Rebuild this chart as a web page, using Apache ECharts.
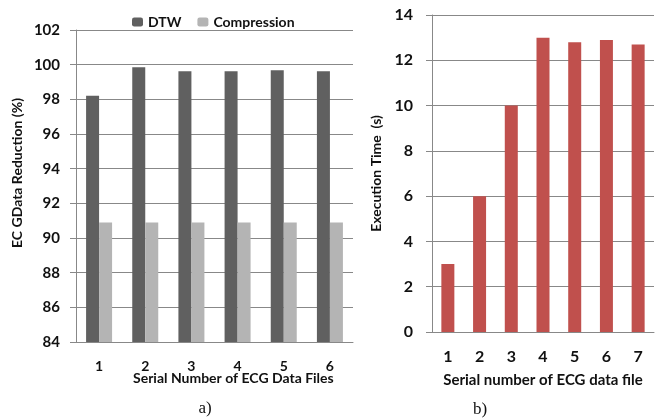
<!DOCTYPE html>
<html>
	<head>
		<meta charset="utf-8" />
		<title>ECG data reduction and execution time</title>
		<script src="https://cdn.jsdelivr.net/npm/echarts@6/dist/echarts.min.js"></script>
		<style>
			html, body { margin: 0; padding: 0; background: #fff; }
			#main { width: 659px; height: 420px; }
		</style>
	</head>
	<body>
		<div id="main"></div>
		<script>
			// a) data reduction per file
			var filesA = ['1', '2', '3', '4', '5', '6'];
			var dtwValues = [98.2, 99.85, 99.62, 99.62, 99.68, 99.62];
			var compressionValues = [90.9, 90.9, 90.9, 90.9, 90.9, 90.9];
			// b) execution time per file
			var filesB = ['1', '2', '3', '4', '5', '6', '7'];
			var execTimes = [3, 6, 10, 13, 12.8, 12.9, 12.7];

			var font = 'Lato';
			var lineColor = '#888';
			var textColor = '#111';

			var chart = echarts.init(document.getElementById('main'));

			var option = {
				animation: false,
				textStyle: { fontFamily: font },
				legend: {
					left: 127,
					top: 10,
					itemWidth: 11,
					itemHeight: 9,
					itemGap: 16,
					textStyle: { fontFamily: font, fontWeight: 'bold', fontSize: 14, color: textColor },
					data: ['DTW', 'Compression']
				},
				grid: [
					{ left: 76, top: 30, width: 277, height: 312 },
					{ left: 432, top: 15, width: 222, height: 317 }
				],
				xAxis: [{
					gridIndex: 0,
					type: 'category',
					data: filesA,
					axisLine: { lineStyle: { color: lineColor } },
					axisTick: { length: 5, lineStyle: { color: lineColor } },
					axisLabel: { margin: 17, fontSize: 14, fontWeight: 'bold', color: textColor }
				}, {
					gridIndex: 1,
					type: 'category',
					data: filesB,
					axisLine: { lineStyle: { color: lineColor } },
					axisTick: { length: 5, lineStyle: { color: lineColor } },
					axisLabel: { margin: 17, fontSize: 16, fontWeight: 'bold', color: textColor },
					name: 'Serial number of ECG data file',
					nameLocation: 'middle',
					nameGap: 41,
					nameTextStyle: { fontSize: 15, fontWeight: 'bold', color: textColor }
				}],
				yAxis: [{
					gridIndex: 0,
					type: 'value',
					min: 84,
					max: 102,
					interval: 2,
					axisLine: { show: true, lineStyle: { color: lineColor } },
					axisTick: { show: true, length: 6, lineStyle: { color: lineColor } },
					splitLine: { lineStyle: { color: lineColor } },
					axisLabel: { margin: 16, fontSize: 15, fontWeight: 'bold', color: textColor }
				}, {
					gridIndex: 1,
					type: 'value',
					min: 0,
					max: 14,
					interval: 2,
					axisLine: { show: true, lineStyle: { color: lineColor } },
					axisTick: { show: true, length: 6, lineStyle: { color: lineColor } },
					splitLine: { lineStyle: { color: lineColor } },
					axisLabel: { margin: 19, fontSize: 16, fontWeight: 'bold', color: textColor },
					name: 'Execution Time  (s)',
					nameLocation: 'middle',
					nameGap: 49,
					nameTextStyle: { fontSize: 14, fontWeight: 'bold', color: textColor }
				}],
				series: [{
					name: 'DTW',
					type: 'bar',
					xAxisIndex: 0,
					yAxisIndex: 0,
					barWidth: 13,
					barGap: '0%',
					itemStyle: { color: '#606060' },
					data: dtwValues
				}, {
					name: 'Compression',
					type: 'bar',
					xAxisIndex: 0,
					yAxisIndex: 0,
					barWidth: 13,
					barGap: '0%',
					itemStyle: { color: '#b4b4b4' },
					data: compressionValues
				}, {
					name: 'Execution Time',
					type: 'bar',
					xAxisIndex: 1,
					yAxisIndex: 1,
					barWidth: 13,
					itemStyle: { color: '#c0504d' },
					data: execTimes
				}],
				graphic: [{
					type: 'text',
					left: 133,
					top: 371,
					style: { text: 'Serial Number of ECG Data Files', font: 'bold 14px Lato', fill: textColor }
				}, {
					type: 'text',
					x: 17,
					y: 173,
					rotation: Math.PI / 2,
					style: {
						text: 'EC GData Reduction (%)',
						font: 'bold 14px Lato',
						fill: textColor,
						align: 'center',
						verticalAlign: 'middle'
					}
				}, {
					type: 'text',
					x: 205,
					y: 409,
					style: { text: 'a)', font: '17px "Liberation Serif"', fill: '#111', align: 'center', verticalAlign: 'middle' }
				}, {
					type: 'text',
					x: 480,
					y: 410,
					style: { text: 'b)', font: '17px "Liberation Serif"', fill: '#111', align: 'center', verticalAlign: 'middle' }
				}]
			};

			chart.setOption(option);
		</script>
	</body>
</html>
